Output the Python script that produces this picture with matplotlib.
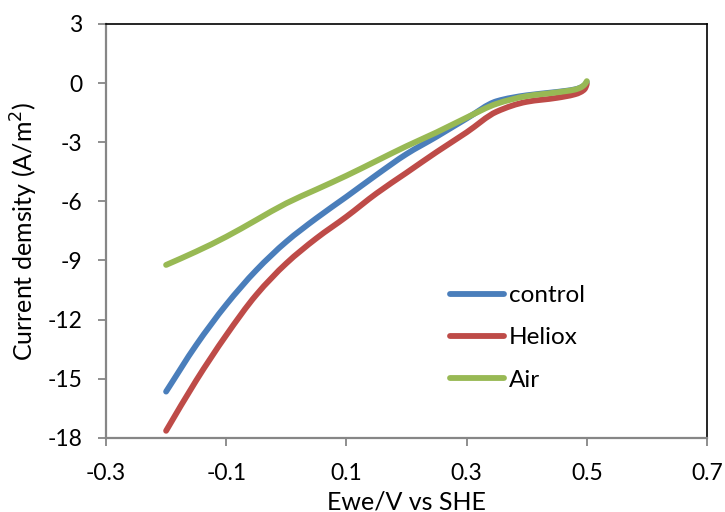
import matplotlib
matplotlib.use("Agg")
import numpy as np
import matplotlib.pyplot as plt
from matplotlib.path import Path
from matplotlib.patches import PathPatch
from matplotlib.lines import Line2D

# Potential (V vs SHE)
potential = [-0.2, -0.15, -0.1, -0.05, 0.0, 0.05, 0.1, 0.15, 0.2, 0.25,
             0.3, 0.35, 0.4, 0.45, 0.48, 0.49, 0.497, 0.5]

# Current density (A/m2) for each condition
control = [-15.66, -13.3, -11.25, -9.5, -8.05, -6.86, -5.77, -4.66, -3.6, -2.72,
           -1.8, -0.92, -0.62, -0.45, -0.32, -0.22, -0.08, 0.05]
heliox = [-17.65, -15.1, -12.8, -10.75, -9.15, -7.88, -6.78, -5.6, -4.55, -3.5,
          -2.5, -1.45, -0.95, -0.75, -0.57, -0.45, -0.28, -0.05]
air = [-9.23, -8.55, -7.8, -6.95, -6.1, -5.4, -4.7, -3.95, -3.2, -2.5,
       -1.75, -1.05, -0.66, -0.47, -0.33, -0.22, -0.05, 0.1]

series_names = ["control", "Heliox", "Air"]
series_colors = ["#4A7EBB", "#BE4B48", "#98B954"]

x_ticks = [-0.3, -0.1, 0.1, 0.3, 0.5, 0.7]
y_ticks = [-18, -15, -12, -9, -6, -3, 0, 3]


def pchip_slopes(x, y):
    """Monotone (Fritsch-Carlson) tangents for a smoothed polyline."""
    h = np.diff(x)
    d = np.diff(y) / h
    m = np.zeros_like(y)
    for i in range(1, len(x) - 1):
        if d[i - 1] * d[i] <= 0:
            m[i] = 0.0
        else:
            w1 = 2 * h[i] + h[i - 1]
            w2 = h[i] + 2 * h[i - 1]
            m[i] = (w1 + w2) / (w1 / d[i - 1] + w2 / d[i])
    m[0] = d[0]
    m[-1] = d[-1]
    return m


def smooth_path(x, y):
    x = np.asarray(x, float)
    y = np.asarray(y, float)
    m = pchip_slopes(x, y)
    verts = [(x[0], y[0])]
    codes = [Path.MOVETO]
    for i in range(len(x) - 1):
        h = x[i + 1] - x[i]
        verts += [(x[i] + h / 3, y[i] + m[i] * h / 3),
                  (x[i + 1] - h / 3, y[i + 1] - m[i + 1] * h / 3),
                  (x[i + 1], y[i + 1])]
        codes += [Path.CURVE4] * 3
    return Path(verts, codes)


plt.rcParams["font.family"] = ["Lato", "DejaVu Sans"]

fig = plt.figure(figsize=(7.25, 5.12), dpi=100)
ax = fig.add_axes([106 / 725, 1 - 437.7 / 512, (707 - 106) / 725, (437.7 - 24) / 512])

lw = 4.2
handles = []
for vals, name, col in zip([control, heliox, air], series_names, series_colors):
    patch = PathPatch(smooth_path(potential, vals), facecolor="none", edgecolor=col,
                      lw=lw, capstyle="round", joinstyle="round")
    ax.add_patch(patch)
    handles.append(Line2D([], [], color=col, lw=lw, solid_capstyle="round", label=name))

ax.set_xlim(-0.3, 0.7)
ax.set_ylim(-18, 3)
ax.set_xticks(x_ticks)
ax.set_xticklabels([f"{v:g}" for v in x_ticks])
ax.set_yticks(y_ticks)
ax.set_yticklabels([f"{v:d}" for v in y_ticks])

gray = "#868686"
for side in ("left", "bottom"):
    ax.spines[side].set_color(gray)
    ax.spines[side].set_linewidth(1.6)
for side in ("top", "right"):
    ax.spines[side].set_color("black")
    ax.spines[side].set_linewidth(1.2)

ax.tick_params(axis="both", direction="out", length=6, width=1.3, color=gray,
               labelsize=16.5, labelcolor="black")
ax.tick_params(axis="y", pad=11)
ax.tick_params(axis="x", pad=12)

ax.set_xlabel("Ewe/V vs SHE", fontsize=18)
ax.set_ylabel("Current demsity (A/m$^2$)", fontsize=18)
ax.xaxis.set_label_coords(0.5, (437.7 - 490) / 413.7)
ax.yaxis.set_label_coords((40 - 106) / 601, 0.5)

ax.legend(handles=handles, loc="upper left", bbox_to_anchor=(450 / 725, 1 - 285 / 512),
          bbox_transform=fig.transFigure, frameon=False, fontsize=17.5,
          handlelength=2.22, handletextpad=0.2, labelspacing=0.88,
          borderpad=0, borderaxespad=0)

fig.savefig("out.png", dpi=100)
